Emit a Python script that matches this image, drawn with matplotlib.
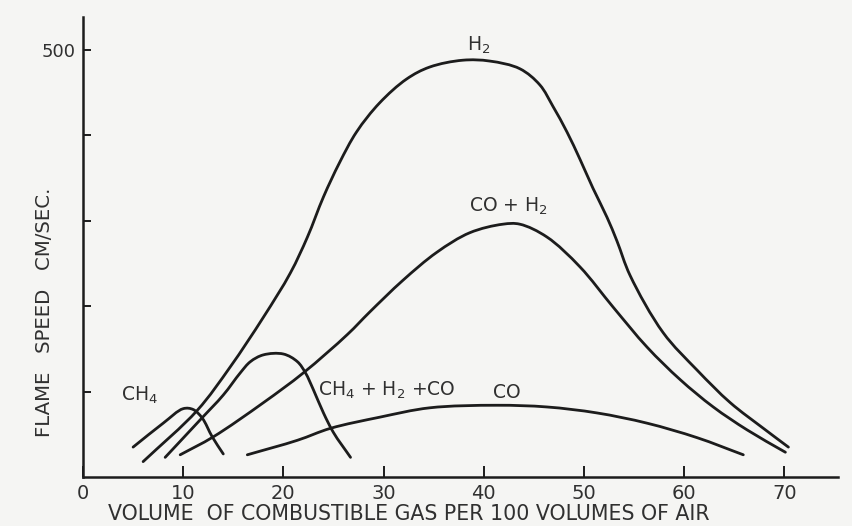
import matplotlib
matplotlib.use("Agg")
import numpy as np
import matplotlib.pyplot as plt
from matplotlib.path import Path
from matplotlib.patches import PathPatch

# ---- data ----
h2_x = [6.0, 11.4, 14.7, 18.0, 20.7, 22.4, 24.0, 25.6, 27.3, 29.6, 32.3, 34.6, 37.9, 40.6, 43.6, 45.6, 46.9, 48.3, 49.6, 50.9, 52.3, 53.3, 54.6, 57.9, 61.3, 64.6, 67.9, 70.4]
h2_y = [18, 78, 129, 187, 239, 281, 328, 368, 404, 438, 466, 480, 488, 487, 478, 459, 434, 404, 372, 338, 304, 276, 236, 169, 125, 87, 57, 35]

coh2_x = [9.7, 13.0, 18.0, 22.0, 26.4, 28.6, 31.9, 35.3, 38.6, 41.9, 43.6, 46.3, 49.6, 52.9, 56.3, 59.6, 62.9, 66.3, 70.1]
coh2_y = [26, 47, 87, 122, 167, 193, 230, 263, 286, 296, 296, 281, 246, 199, 152, 114, 82, 55, 29]

mix_x = [8.2, 11.7, 14.0, 15.7, 16.7, 18.0, 20.0, 21.4, 22.2, 23.0, 24.0, 25.0, 26.7]
mix_y = [23, 67, 96, 122, 135, 143, 144, 135, 122, 102, 75, 52, 23]

ch4_x = [5.0, 8.0, 10.0, 11.0, 11.9, 12.9, 14.0]
ch4_y = [35, 63, 80, 79, 69, 47, 27]

co_x = [16.4, 21.4, 24.7, 29.6, 34.6, 41.3, 46.3, 51.3, 56.3, 61.3, 65.9]
co_y = [26, 43, 57, 70, 81, 84, 82, 75, 63, 46, 26]

series = [
    (h2_x, h2_y),
    (coh2_x, coh2_y),
    (mix_x, mix_y),
    (ch4_x, ch4_y),
    (co_x, co_y),
]

x_ticks = [0, 10, 20, 30, 40, 50, 60, 70]
y_ticks = [100, 200, 300, 400, 500]

bg = "#f5f5f3"
ink = "#1c1c1c"
txtc = "#303030"

fig = plt.figure(figsize=(8.52, 5.26), dpi=100, facecolor=bg)
ax = fig.add_axes([83/852, 1-477/526, (838-83)/852, (477-17)/526], facecolor=bg)


def smooth_path(xs, ys, trans, alpha=0.5):
    # centripetal Catmull-Rom curve through the points, as cubic Bezier segments (display space)
    pts = np.asarray(trans.transform(list(zip(xs, ys))), dtype=float)
    n = len(pts)
    ext = np.vstack([2 * pts[0] - pts[1], pts, 2 * pts[-1] - pts[-2]])
    verts = [tuple(pts[0])]
    codes = [Path.MOVETO]
    for i in range(1, n):
        p0, p1, p2, p3 = ext[i - 1], ext[i], ext[i + 1], ext[i + 2]
        d1 = np.linalg.norm(p1 - p0) ** alpha
        d2 = np.linalg.norm(p2 - p1) ** alpha
        d3 = np.linalg.norm(p3 - p2) ** alpha
        c1 = (d1 * d1 * p2 - d2 * d2 * p0 + (2 * d1 * d1 + 3 * d1 * d2 + d2 * d2) * p1) / (3 * d1 * (d1 + d2))
        c2 = (d3 * d3 * p1 - d2 * d2 * p3 + (2 * d3 * d3 + 3 * d3 * d2 + d2 * d2) * p2) / (3 * d3 * (d3 + d2))
        verts += [tuple(c1), tuple(c2), tuple(p2)]
        codes += [Path.CURVE4] * 3
    return Path(verts, codes)


ax.set_xlim(0, 75.35)
ax.set_ylim(0, 538.6)
fig.canvas.draw()
for xs, ys in series:
    # invisible anchor line so the series lives on the axes' data scale
    ax.plot(xs, ys, alpha=0)
    p = smooth_path(xs, ys, ax.transData)
    ax.add_patch(PathPatch(p, transform=None, fill=False, edgecolor=ink, lw=2.0,
                           capstyle="round", joinstyle="round"))

for s in ["top", "right"]:
    ax.spines[s].set_visible(False)
for s in ["left", "bottom"]:
    ax.spines[s].set_color(ink)
    ax.spines[s].set_linewidth(1.8)

ax.set_xticks(x_ticks)
ax.set_xticklabels([str(v) for v in x_ticks], fontsize=14, color=txtc)
ax.set_yticks(y_ticks)
ax.set_yticklabels(["" if v != 500 else "500" for v in y_ticks], fontsize=13, color=txtc)
ax.tick_params(axis="x", direction="in", length=8, width=1.4, color=ink, pad=5)
ax.tick_params(axis="y", direction="in", length=6, width=1.4, color=ink, pad=5)

txt = dict(color=txtc, fontsize=13.5)
ax.text(39.5, 493, "H$_2$", ha="center", va="bottom", **txt)
ax.text(42.5, 304, "CO + H$_2$", ha="center", va="bottom", **txt)
ax.text(30.3, 102, "CH$_4$ + H$_2$ +CO", ha="center", va="center", **txt)
ax.text(42.3, 88, "CO", ha="center", va="bottom", **txt)
ax.text(5.6, 83, "CH$_4$", ha="center", va="bottom", **txt)

fig.text(409/852, 1-514/526, "VOLUME  OF COMBUSTIBLE GAS PER 100 VOLUMES OF AIR",
         ha="center", va="center", fontsize=14.8, color=txtc)
fig.text(45/852, 1-312/526, "FLAME   SPEED   CM/SEC.", rotation=90,
         ha="center", va="center", fontsize=14.2, color=txtc)

fig.savefig("out.png", dpi=100, facecolor=bg)
